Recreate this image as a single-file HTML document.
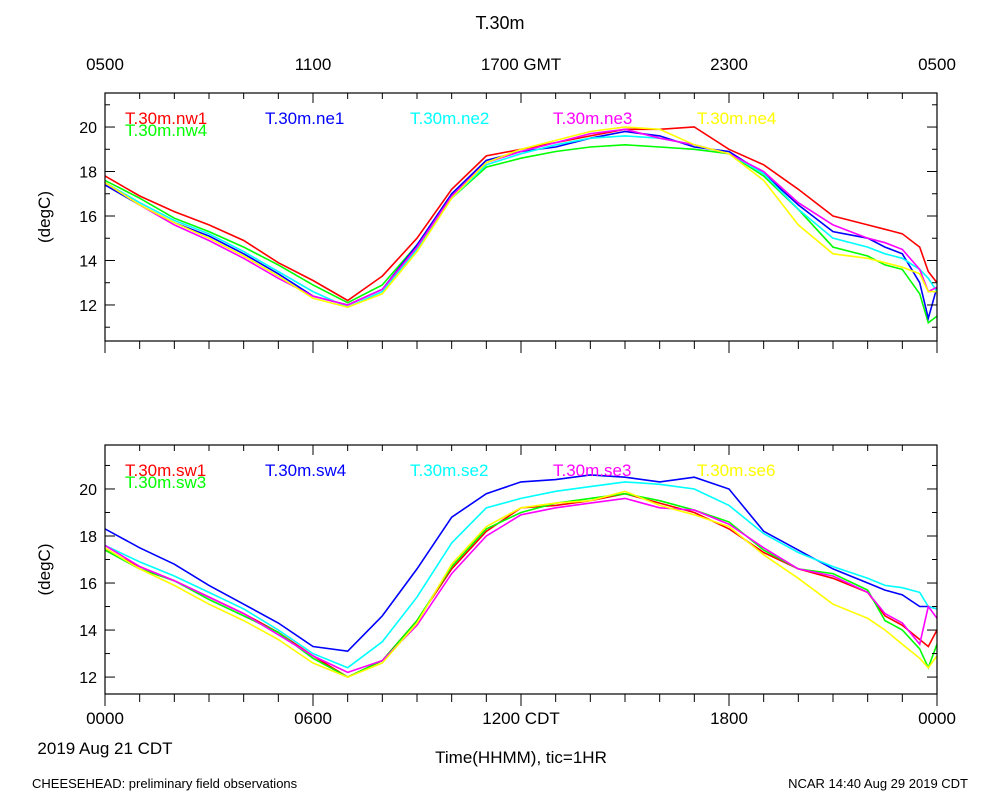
<!DOCTYPE html>
<html><head><meta charset="utf-8">
<style>
body{margin:0;background:#fff;}
svg{display:block;font-family:"Liberation Sans",sans-serif;}
</style></head>
<body>
<svg id="chart" width="1000" height="800"></svg>
<script>
// Data (hours since 0000 CDT)
const hours = [0,1,2,3,4,5,6,7,8,9,10,11,12,13,14,15,16,17,18,19,20,21,22,22.5,23,23.5,23.75,24];
const topNames = ["T.30m.nw1","T.30m.nw4","T.30m.ne1","T.30m.ne2","T.30m.ne3","T.30m.ne4"];
const nw1 = [17.8,16.9,16.2,15.6,14.9,13.9,13.1,12.2,13.3,15.0,17.2,18.7,19.0,19.3,19.6,19.9,19.9,20.0,19.0,18.3,17.2,16.0,15.6,15.4,15.2,14.6,13.5,13.0];
const nw4 = [17.6,16.8,15.9,15.3,14.6,13.8,12.9,12.1,12.9,14.7,16.8,18.2,18.6,18.9,19.1,19.2,19.1,19.0,18.8,17.8,16.3,14.6,14.2,13.8,13.6,12.5,11.2,11.5];
const ne1 = [17.4,16.5,15.7,15.1,14.3,13.4,12.4,12.0,12.7,14.7,17.0,18.5,18.9,19.1,19.5,19.8,19.6,19.1,18.9,17.9,16.5,15.3,15.0,14.6,14.3,13.0,11.4,12.8];
const ne2 = [17.5,16.6,15.8,15.2,14.4,13.5,12.6,11.9,12.6,14.5,16.8,18.3,18.8,19.2,19.5,19.6,19.5,19.2,18.8,17.9,16.3,15.0,14.6,14.3,14.1,13.6,13.2,12.6];
const ne3 = [17.5,16.5,15.6,14.9,14.1,13.2,12.4,12.0,12.7,14.6,16.9,18.4,18.9,19.3,19.7,19.9,19.5,19.2,18.8,18.0,16.6,15.6,15.0,14.8,14.5,13.6,12.6,12.8];
const ne4 = [17.5,16.5,15.7,15.0,14.2,13.3,12.3,11.9,12.5,14.4,16.8,18.4,19.0,19.4,19.8,20.0,19.9,19.2,18.8,17.6,15.6,14.3,14.1,13.9,13.7,13.4,12.6,12.6];
const botNames = ["T.30m.sw1","T.30m.sw3","T.30m.sw4","T.30m.se2","T.30m.se3","T.30m.se6"];
const sw1 = [17.4,16.7,16.1,15.4,14.7,13.9,12.9,12.0,12.7,14.4,16.6,18.2,19.2,19.3,19.5,19.8,19.4,19.0,18.3,17.3,16.6,16.2,15.6,14.6,14.2,13.6,13.3,14.0];
const sw3 = [17.4,16.6,16.1,15.3,14.6,13.9,12.8,12.0,12.7,14.4,16.7,18.3,19.0,19.4,19.6,19.8,19.5,19.1,18.6,17.4,16.6,16.4,15.7,14.4,14.0,13.2,12.4,13.4];
const sw4 = [18.3,17.5,16.8,15.9,15.1,14.3,13.3,13.1,14.6,16.6,18.8,19.8,20.3,20.4,20.6,20.5,20.3,20.5,20.0,18.2,17.4,16.6,16.0,15.7,15.5,15.0,15.0,14.9];
const se2 = [17.6,16.9,16.3,15.6,14.9,14.0,13.0,12.4,13.5,15.4,17.7,19.2,19.6,19.9,20.1,20.3,20.2,20.0,19.3,18.1,17.3,16.7,16.2,15.9,15.8,15.6,15.0,14.9];
const se3 = [17.6,16.7,16.1,15.4,14.7,13.8,12.9,12.2,12.7,14.2,16.4,18.0,18.9,19.2,19.4,19.6,19.2,19.1,18.5,17.5,16.6,16.3,15.6,14.7,14.3,13.4,15.0,14.5];
const se6 = [17.5,16.6,15.9,15.1,14.4,13.6,12.6,12.0,12.6,14.3,16.8,18.4,19.2,19.4,19.5,19.9,19.3,18.9,18.4,17.2,16.2,15.1,14.5,14.0,13.4,12.8,12.4,12.9];
const yTicks = [12,14,16,18,20];
const topXLabels = ["0500","1100","1700 GMT","2300","0500"];
const botXLabels = ["0000","0600","1200 CDT","1800","0000"];

const colors = ["#ff0000","#00ff00","#0000ff","#00ffff","#ff00ff","#ffff00"];
const NS="http://www.w3.org/2000/svg";
const svg=document.getElementById("chart");
function mk(tag,attrs,parent){const e=document.createElementNS(NS,tag);for(const k in attrs)e.setAttribute(k,attrs[k]);(parent||svg).appendChild(e);return e;}
const X0=105,X1=937;
const xs=h=>X0+(X1-X0)*h/24;

function panel(name,top,bottom,ymin,ymax,series,names,xlabels,labelY){
  const g=mk("g",{});
  
  
  const ys=v=>bottom-(v-ymin)/(ymax-ymin)*(bottom-top);
  const clipId=name+"-clip";
  const cp=mk("clipPath",{id:clipId},g);mk("rect",{x:X0,y:top,width:X1-X0,height:bottom-top},cp);
  series.forEach((s,i)=>{
    const d=s.map((v,j)=>(j?"L":"M")+xs(hours[j]).toFixed(1)+","+ys(v).toFixed(1)).join("");
    const p=mk("path",{d:d,fill:"none",stroke:colors[i],"stroke-width":1.6,"clip-path":"url(#"+clipId+")"},g);
    
    
  });
  const fr=mk("rect",{x:X0,y:top,width:X1-X0,height:bottom-top,fill:"none",stroke:"#000","stroke-width":1.2},g);
  
  
  for(let h=0;h<=24;h++){
    const x=xs(h),L=(h%6==0)?12:8;
    mk("line",{x1:x,y1:bottom,x2:x,y2:bottom+L,stroke:"#000"},g);
    mk("line",{x1:x,y1:top,x2:x,y2:top+((h%6==0)?10:6),stroke:"#000"},g);
  }
  yTicks.forEach(v=>{
    const y=ys(v);
    mk("line",{x1:X0,y1:y,x2:X0+10,y2:y,stroke:"#000"},g);
    mk("line",{x1:X1,y1:y,x2:X1-10,y2:y,stroke:"#000"},g);
    const t=mk("text",{x:X0-8,y:y+6,"text-anchor":"end","font-size":16},g);t.textContent=v;
    
    
  });
  for(let v=Math.ceil(ymin);v<=ymax;v++){ if(v%2){const y=ys(v);
    mk("line",{x1:X0,y1:y,x2:X0+5,y2:y,stroke:"#000"},g);
    mk("line",{x1:X1,y1:y,x2:X1-5,y2:y,stroke:"#000"},g);}}
  const yt=mk("text",{x:0,y:0,transform:"translate(50,"+((top+bottom)/2)+") rotate(-90)","text-anchor":"middle","font-size":17},g);
  yt.textContent="(degC)";
  
  
  xlabels.forEach((l,i)=>{
    const t=mk("text",{x:xs(i*6),y:labelY,"text-anchor":"middle","font-size":17},g);t.textContent=l;
    
    
  });
  const lx=[125,125,265,410,553,697],ly=[top+31,top+43,top+31,top+31,top+31,top+31];
  names.forEach((n,i)=>{
    const t=mk("text",{x:lx[i],y:ly[i],"font-size":17,fill:colors[i]},g);t.textContent=n;
    
    
  });
}
panel("top-panel",93,341,10.38,21.53,[nw1,nw4,ne1,ne2,ne3,ne4],topNames,topXLabels,70);
panel("bottom-panel",445,694,11.28,21.87,[sw1,sw3,sw4,se2,se3,se6],botNames,botXLabels,724);

function txt(s,x,y,size,anchor,nm){const t=mk("text",{x:x,y:y,"font-size":size,"text-anchor":anchor});t.textContent=s;
  
  }
txt("T.30m",500,29,18,"middle","chart-title");
txt("2019 Aug 21 CDT",105,754,17,"middle","date-label");
txt("Time(HHMM), tic=1HR",521,763,17,"middle","x-axis-title");
txt("CHEESEHEAD: preliminary field observations",32,788,13,"start","footer-left");
txt("NCAR 14:40 Aug 29 2019 CDT",968,788,13,"end","footer-right");
</script>
</body></html>
